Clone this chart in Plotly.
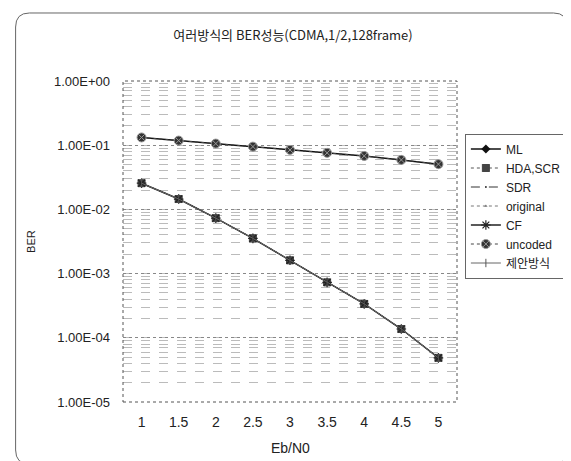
import plotly.graph_objects as go

# ---- data ----
eb_n0 = ["1", "1.5", "2", "2.5", "3", "3.5", "4", "4.5", "5"]
upper_ber = [0.132, 0.118, 0.106, 0.095, 0.0845, 0.076, 0.068, 0.059, 0.0507]
lower_ber = [0.0256, 0.0145, 0.0073, 0.00354, 0.00161, 0.00073, 0.000337, 0.000137, 0.0000487]

ml = upper_ber
uncoded = upper_ber
hda_scr = lower_ber
sdr = lower_ber
original = lower_ber
cf = lower_ber
proposed = lower_ber

y_tickvals = [1, 1e-1, 1e-2, 1e-3, 1e-4, 1e-5]
y_ticktext = ["1.00E+00", "1.00E-01", "1.00E-02", "1.00E-03", "1.00E-04", "1.00E-05"]

title_text = "여러방식의 BER성능(CDMA,1/2,128frame)"
x_title = "Eb/N0"
y_title = "BER"

# ---- layout geometry ----
W, H = 571, 461
ML_, MR_, MT_, MB_ = 115, 117, 73, 67
PW, PH = W - ML_ - MR_, H - MT_ - MB_

def px(x):
    return (x - ML_) / PW

def py(y):
    return 1 - (y - MT_) / PH

FONT = "Liberation Sans, Arial, Noto Sans CJK KR, sans-serif"
TXT = "#222222"

fig = go.Figure()

series = [
    ("ML", ml, dict(color="#111111", width=1.5), dict(symbol="diamond", size=7, color="#111111")),
    ("HDA,SCR", hda_scr, dict(color="#555555", width=1, dash="dot"), dict(symbol="square-x", size=7, color="#444444", line=dict(color="#444444", width=1))),
    ("SDR", sdr, dict(color="#333333", width=1, dash="dash"), dict(symbol="circle", size=1, color="#333333")),
    ("original", original, dict(color="#777777", width=1, dash="dot"), dict(symbol="triangle-up", size=3, color="#777777")),
    ("CF", cf, dict(color="#222222", width=1.5), dict(symbol="asterisk-open", size=8, color="#222222", line=dict(color="#222222", width=1.2))),
    ("uncoded", uncoded, dict(color="#444444", width=1, dash="dot"), dict(symbol="circle-x", size=9, color="#333333", line=dict(color="#999999", width=1))),
    ("제안방식", proposed, dict(color="#666666", width=1), dict(symbol="line-ns-open", size=6, color="#555555", line=dict(color="#555555", width=1))),
]

for name, vals, line, marker in series:
    fig.add_trace(go.Scatter(x=eb_n0, y=vals, name=name, mode="lines+markers",
                             line=line, marker=marker))

fig.update_layout(
    width=W, height=H,
    margin=dict(l=ML_, r=MR_, t=MT_, b=MB_),
    paper_bgcolor="white", plot_bgcolor="white",
    font=dict(family=FONT, size=12, color=TXT),
    title=dict(text=title_text, x=285 / W, xanchor="center", y=1 - 27 / H, yanchor="middle",
               font=dict(family="Noto Sans CJK KR, Liberation Sans, sans-serif", size=13, color=TXT)),
    showlegend=True,
    legend=dict(x=px(462), xanchor="left", y=py(198), yanchor="middle",
                bgcolor="white", bordercolor="#666666", borderwidth=1,
                font=dict(family="Liberation Sans, Noto Sans CJK KR, sans-serif", size=12, color=TXT),
                itemwidth=30, tracegroupgap=0),
    xaxis=dict(type="category", range=[-0.5, 8.5], showgrid=False, zeroline=False,
               showline=False, ticks="", ticklabelstandoff=10,
               tickfont=dict(size=14, color=TXT)),
    yaxis=dict(type="log", range=[-5, 0], tickmode="array", tickvals=y_tickvals, ticktext=y_ticktext,
               showgrid=True, gridcolor="#888888", griddash="dot", gridwidth=1,
               zeroline=False, showline=False, ticks="", ticklabelstandoff=12,
               tickfont=dict(size=13, color=TXT),
               minor=dict(dtick="D1", showgrid=True, gridcolor="#bbbbbb", griddash="dash", gridwidth=1)),
    annotations=[
        dict(text=x_title, xref="paper", yref="paper", x=0.5, y=py(440), xanchor="center", yanchor="middle",
             showarrow=False, font=dict(size=14, color=TXT)),
        dict(text=y_title, xref="paper", yref="paper", x=px(21), y=0.5, xanchor="center", yanchor="middle",
             textangle=-90, showarrow=False, font=dict(size=11, color=TXT)),
    ],
)

# plot area border (dotted, Excel style)
fig.add_shape(type="rect", xref="paper", yref="paper", x0=0, y0=0, x1=1, y1=1,
              line=dict(color="#555555", width=1, dash="dot"), layer="above")

# outer rounded chart border
x0, x1, y0, y1, r = 6, 566, 5, 456, 14

def P(x, y):
    return f"{px(x):.5f},{py(y):.5f}"

path = (f"M {P(x0 + r, y0)} L {P(x1 - r, y0)} Q {P(x1, y0)} {P(x1, y0 + r)} "
        f"L {P(x1, y1 - r)} Q {P(x1, y1)} {P(x1 - r, y1)} "
        f"L {P(x0 + r, y1)} Q {P(x0, y1)} {P(x0, y1 - r)} "
        f"L {P(x0, y0 + r)} Q {P(x0, y0)} {P(x0 + r, y0)} Z")
fig.add_shape(type="path", xref="paper", yref="paper", path=path,
              line=dict(color="#666666", width=1), layer="below")

fig.write_html("out.html")
